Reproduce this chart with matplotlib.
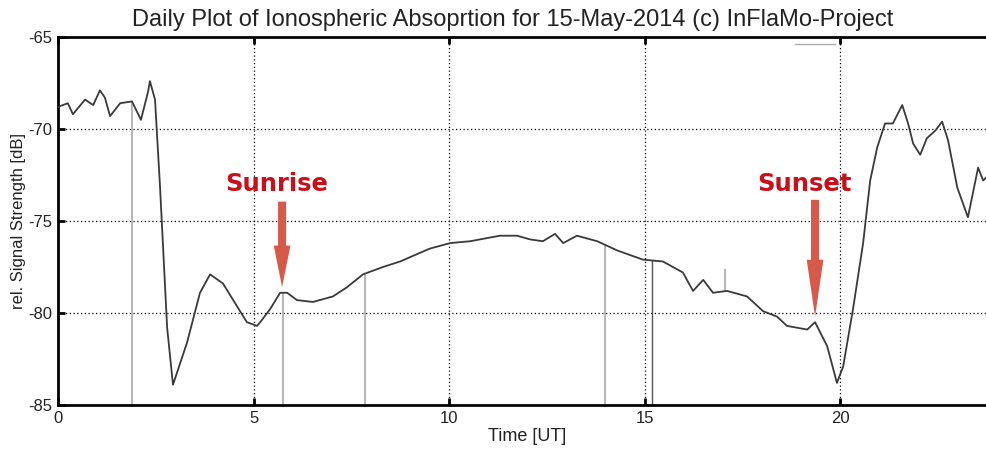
import matplotlib
matplotlib.use('Agg')
import matplotlib.pyplot as plt

# time in UT hours and relative signal strength in dB
hours = [0.0, 0.25, 0.38, 0.69, 0.9, 1.07, 1.2, 1.33, 1.59, 1.89, 2.12, 2.3, 2.35,
         2.48, 2.61, 2.79, 2.94, 3.30, 3.63, 3.89, 4.22, 4.48, 4.83, 5.09, 5.17,
         5.42, 5.68, 5.86, 6.11, 6.52, 7.03, 7.39, 7.80, 8.31, 8.75, 9.18, 9.51,
         10.03, 10.54, 11.30, 11.74, 12.07, 12.40, 12.71, 12.92, 13.27, 13.79,
         14.30, 14.96, 15.47, 15.98, 16.24, 16.50, 16.75, 17.11, 17.62, 18.03,
         18.39, 18.64, 19.16, 19.36, 19.67, 19.92, 20.08, 20.33, 20.59, 20.77,
         20.95, 21.15, 21.35, 21.59, 21.74, 21.87, 22.05, 22.22, 22.43, 22.61,
         22.76, 23.00, 23.27, 23.53, 23.66, 23.80]
signal = [-68.8, -68.6, -69.2, -68.4, -68.7, -67.9, -68.3, -69.3, -68.6, -68.5,
          -69.5, -68.0, -67.4, -68.4, -73.2, -80.8, -83.9, -81.6, -78.9, -77.9,
          -78.4, -79.3, -80.5, -80.7, -80.5, -79.8, -78.9, -78.9, -79.3, -79.4,
          -79.1, -78.6, -77.9, -77.5, -77.2, -76.8, -76.5, -76.2, -76.1, -75.8,
          -75.8, -76.0, -76.1, -75.7, -76.2, -75.8, -76.1, -76.6, -77.1, -77.2,
          -77.8, -78.8, -78.2, -78.9, -78.8, -79.1, -79.9, -80.2, -80.7, -80.9,
          -80.5, -81.8, -83.8, -82.9, -79.8, -76.2, -72.8, -71.0, -69.7, -69.7,
          -68.7, -69.7, -70.8, -71.4, -70.5, -70.1, -69.6, -70.6, -73.2, -74.8,
          -72.1, -72.8, -72.5]

# glitch spikes in the recording
spike_t = [1.89, 5.75, 7.85, 13.99, 17.06]
spike_lo = [-85, -85, -85, -85, -78.8]
spike_hi = [-68.5, -78.9, -77.9, -76.3, -77.6]
spike2_t = 15.19
spike2_hi = -77.1
stray_t = [18.85, 19.87]
stray_y = [-65.4, -65.4]

events = ['Sunrise', 'Sunset']
event_t = [5.73, 19.36]
event_tip = [-78.6, -80.2]
event_top = [-73.95, -73.85]
label_t = [5.6, 19.1]
label_y = [-73.0, -73.0]
head_len = [3.0, 4.1]

plt.rcParams['font.family'] = ['Liberation Sans', 'DejaVu Sans']
plt.rcParams['axes.unicode_minus'] = False

fig = plt.figure(figsize=(9.87, 4.5), dpi=100)
ax = fig.add_axes([0.0588, 0.1, 0.9508, 0.8178])

ax.plot(hours, signal, color='#3a3a3a', lw=1.3, zorder=3)
ax.vlines(spike_t, spike_lo, spike_hi, color='#a8a8a8', lw=1.2, zorder=2)
ax.vlines(spike2_t, -85, spike2_hi, color='#555555', lw=1.0, zorder=2)
ax.plot(stray_t, stray_y, color='#aaaaaa', lw=1.0)

for name, t, tip, top, lt, ly, hl in zip(events, event_t, event_tip, event_top,
                                         label_t, label_y, head_len):
    ax.annotate('', xy=(t, tip), xytext=(t, top),
                arrowprops=dict(arrowstyle='simple,head_width=1.2,head_length=%.1f,tail_width=0.58' % hl,
                                mutation_scale=10, color='#d6594a', lw=0,
                                shrinkA=0, shrinkB=0), zorder=5)
    ax.text(lt, ly, name, color='#c8101a', fontsize=17.5, fontweight='bold',
            family='DejaVu Sans', ha='center', va='center', zorder=6)

ax.set_xlim(0, 24)
ax.set_ylim(-85, -65)
ax.set_xticks([0, 5, 10, 15, 20])
ax.set_yticks([-85, -80, -75, -70, -65])
ax.grid(True, color='black', linestyle=(0, (1, 2)), linewidth=0.9)
ax.tick_params(direction='in', length=5, width=2, top=True, right=False,
               labelsize=12, labelcolor='#222222', pad=4)
for s in ['left', 'bottom', 'top']:
    ax.spines[s].set_linewidth(2)
ax.spines['right'].set_visible(False)

ax.set_title('Daily Plot of Ionospheric Absoprtion for 15-May-2014 (c) InFlaMo-Project',
             fontsize=17, color='#222222', pad=8, x=0.485)
ax.set_xlabel('Time [UT]', fontsize=13, color='#222222', labelpad=2)
ax.set_ylabel('rel. Signal Strength [dB]', fontsize=12, color='#222222', labelpad=2)

fig.savefig('out.png', dpi=100)
